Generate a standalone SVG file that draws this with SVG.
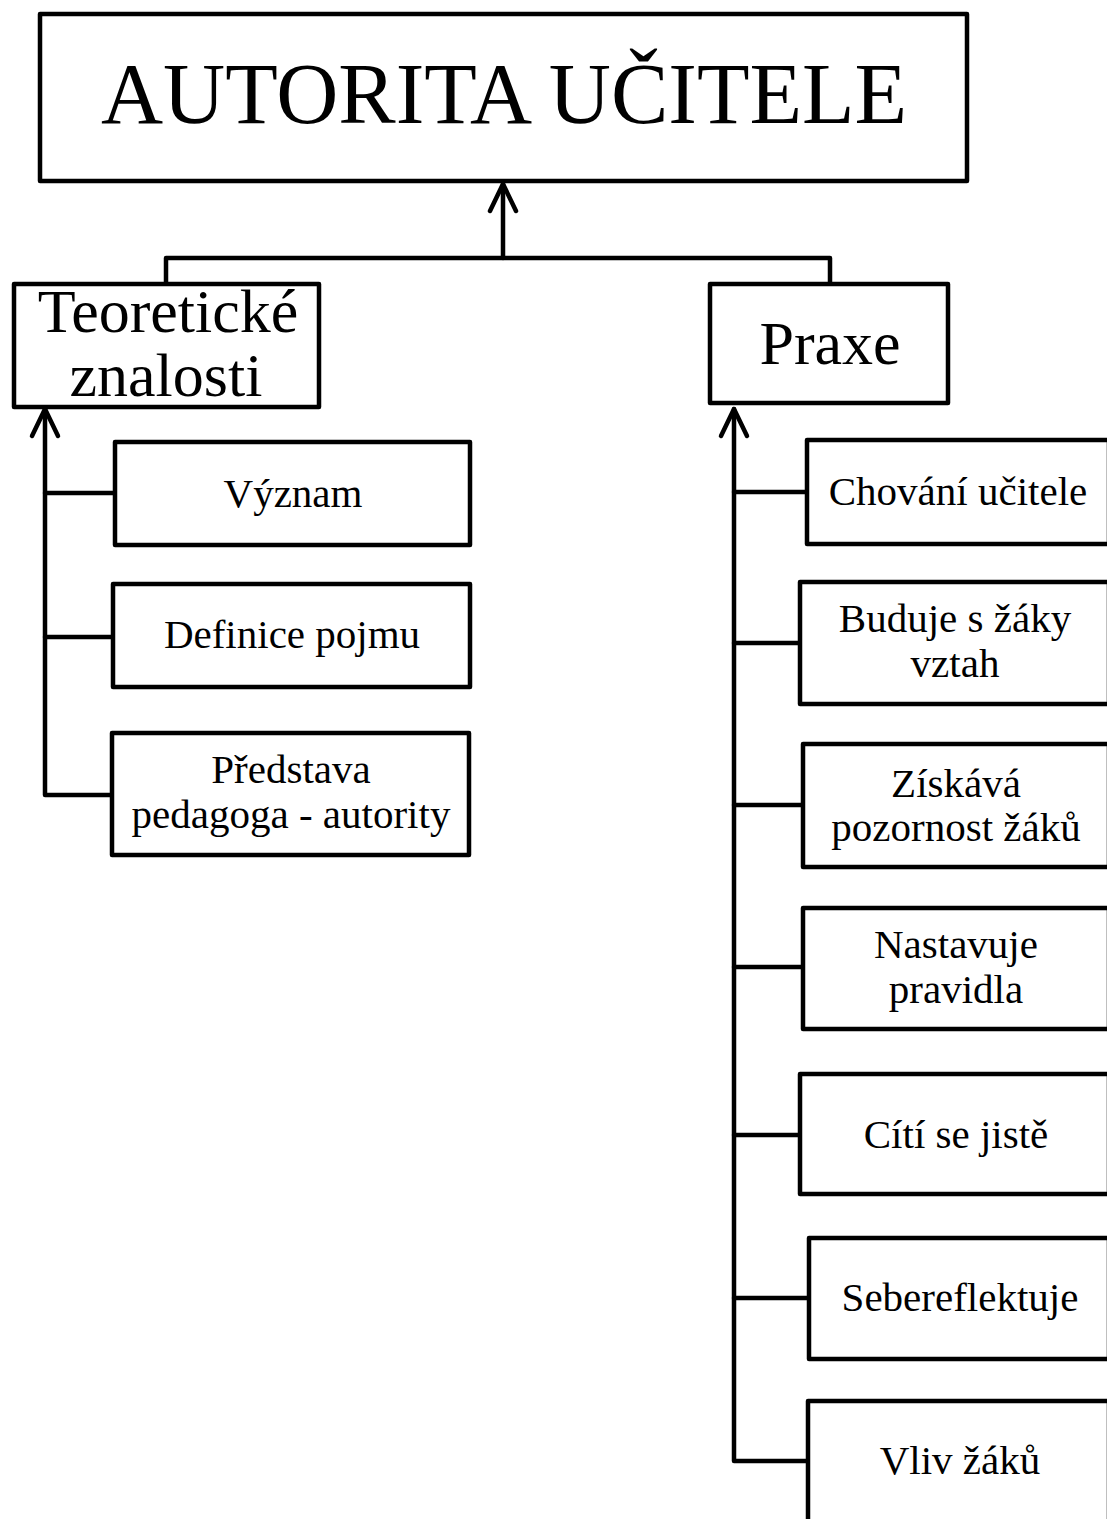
<svg xmlns="http://www.w3.org/2000/svg" width="1107" height="1519" viewBox="0 0 1107 1519">
<style>
.box{fill:#fff;stroke:#000;stroke-width:4.5;stroke-linejoin:round}
.ln{fill:none;stroke:#000;stroke-width:4.5;stroke-linejoin:round;stroke-linecap:round}
text{font-family:"Liberation Serif","Times New Roman",serif;fill:#000;text-anchor:middle}
.t{font-size:41px}
</style>
<defs>
<marker id="open" markerUnits="userSpaceOnUse" markerWidth="40" markerHeight="40" refX="0" refY="0" orient="auto" overflow="visible">
<path d="M-27 -13 L0 0 L-27 13" fill="none" stroke="#000" stroke-width="4.5" stroke-linecap="round" stroke-linejoin="round"/>
</marker>
</defs>
<rect width="1107" height="1519" fill="#fff"/>
<g id="connectors">
<path class="ln" d="M503 258 L503 184" marker-end="url(#open)"/>
<path class="ln" d="M166 285 L166 258 L830 258 L830 285"/>
<path class="ln" d="M112 795 L45 795 L45 409" marker-end="url(#open)"/>
<path class="ln" d="M45 493 L115 493"/>
<path class="ln" d="M45 637 L113 637"/>
<path class="ln" d="M808 1461 L734 1461 L734 409" marker-end="url(#open)"/>
<path class="ln" d="M734 492 L807 492"/>
<path class="ln" d="M734 643 L800 643"/>
<path class="ln" d="M734 805 L803 805"/>
<path class="ln" d="M734 967 L803 967"/>
<path class="ln" d="M734 1135 L800 1135"/>
<path class="ln" d="M734 1298 L809 1298"/>
</g>
<g id="node-autorita">
<rect class="box" x="40" y="14" width="927" height="167"/>
<text x="504" y="123" font-size="86">AUTORITA UČITELE</text>
</g>
<g id="node-teoreticke">
<rect class="box" x="14" y="284" width="305" height="123"/>
<text x="168" y="332" font-size="62">Teoretické</text>
<text x="166" y="396" font-size="62">znalosti</text>
</g>
<g id="node-praxe">
<rect class="box" x="710" y="284" width="238" height="119"/>
<text x="830" y="364" font-size="62">Praxe</text>
</g>
<g id="node-vyznam">
<rect class="box" x="115" y="442" width="355" height="103"/>
<text class="t" x="293" y="507">Význam</text>
</g>
<g id="node-definice">
<rect class="box" x="113" y="584" width="357" height="103"/>
<text class="t" x="292" y="648">Definice pojmu</text>
</g>
<g id="node-predstava">
<rect class="box" x="112" y="733" width="357" height="122"/>
<text class="t" x="291" y="783">Představa</text>
<text class="t" x="291" y="828">pedagoga - autority</text>
</g>
<g id="node-chovani">
<rect class="box" x="807" y="440" width="302" height="104"/>
<text class="t" x="958" y="505">Chování učitele</text>
</g>
<g id="node-buduje">
<rect class="box" x="800" y="582" width="309" height="122"/>
<text class="t" x="955" y="632">Buduje s žáky</text>
<text class="t" x="955" y="677">vztah</text>
</g>
<g id="node-ziskava">
<rect class="box" x="803" y="744" width="306" height="123"/>
<text class="t" x="956" y="797">Získává</text>
<text class="t" x="956" y="841">pozornost žáků</text>
</g>
<g id="node-nastavuje">
<rect class="box" x="803" y="908" width="306" height="121"/>
<text class="t" x="956" y="958">Nastavuje</text>
<text class="t" x="956" y="1003">pravidla</text>
</g>
<g id="node-citi">
<rect class="box" x="800" y="1074" width="309" height="120"/>
<text class="t" x="956" y="1148">Cítí se jistě</text>
</g>
<g id="node-sebereflektuje">
<rect class="box" x="809" y="1238" width="300" height="121"/>
<text class="t" x="960" y="1311">Sebereflektuje</text>
</g>
<g id="node-vliv">
<rect class="box" x="808" y="1401" width="301" height="140"/>
<text class="t" x="960" y="1474">Vliv žáků</text>
</g>
</svg>
